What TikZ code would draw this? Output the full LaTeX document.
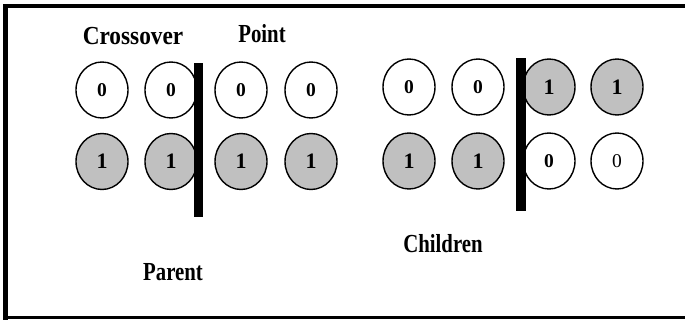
\documentclass[tikz,border=0pt]{standalone}
\usepackage{fontspec}
\setmainfont{Liberation Serif}
\usetikzlibrary{shapes.geometric}
\definecolor{cellgray}{HTML}{C0C0C0}
\begin{document}
\begin{tikzpicture}[x=1pt,y=-1pt,
  cell/.style={draw=black,line width=1.4pt,ellipse,minimum width=52pt,minimum height=56pt,inner sep=0pt},
  zero/.style={cell,fill=white,font=\fontsize{19.5}{19.5}\selectfont\bfseries},
  one/.style={cell,fill=cellgray,font=\fontsize{22}{22}\selectfont\bfseries},
  thinzero/.style={cell,fill=white,font=\fontsize{19.5}{19.5}\selectfont},
  lbl/.style={anchor=base,font=\fontsize{26}{26}\selectfont\bfseries,xscale=0.8,inner sep=0pt},
  bar/.style={fill=black}]
\useasboundingbox (0,0) rectangle (685,320);
% frame (open at right)
\draw[line width=4.5pt] (685,6) -- (5.5,6) -- (5.5,320);
\draw[line width=3pt] (5.5,317.5) -- (685,317.5);
% parent
\node[zero] (p1) at (102,90) {0};
\node[zero] (p2) at (171,90) {0};
\node[zero] (p3) at (241,90) {0};
\node[zero] (p4) at (311,90) {0};
\node[one] (q1) at (102,161.5) {1};
\node[one] (q2) at (171,161.5) {1};
\node[one] (q3) at (241,161.5) {1};
\node[one] (q4) at (311,161.5) {1};
\fill[bar] (193.5,63) rectangle (203,217);
% children
\node[zero] (c1) at (409,87) {0};
\node[zero] (c2) at (478,87) {0};
\node[one] (c3) at (549,87) {1};
\node[one] (c4) at (617,87) {1};
\node[one] (d1) at (409,161) {1};
\node[one] (d2) at (478,161) {1};
\node[zero] (d3) at (549,161) {0};
\node[thinzero] (d4) at (617,161) {0};
\fill[bar] (516,58) rectangle (526,211);
% labels
\node[lbl,xscale=1.12] (cross) at (133,45) {Crossover};
\node[lbl] (point) at (262,43) {Point};
\node[lbl] (parent) at (173,280) {Parent};
\node[lbl] (children) at (443,253) {Children};
\end{tikzpicture}
\end{document}
